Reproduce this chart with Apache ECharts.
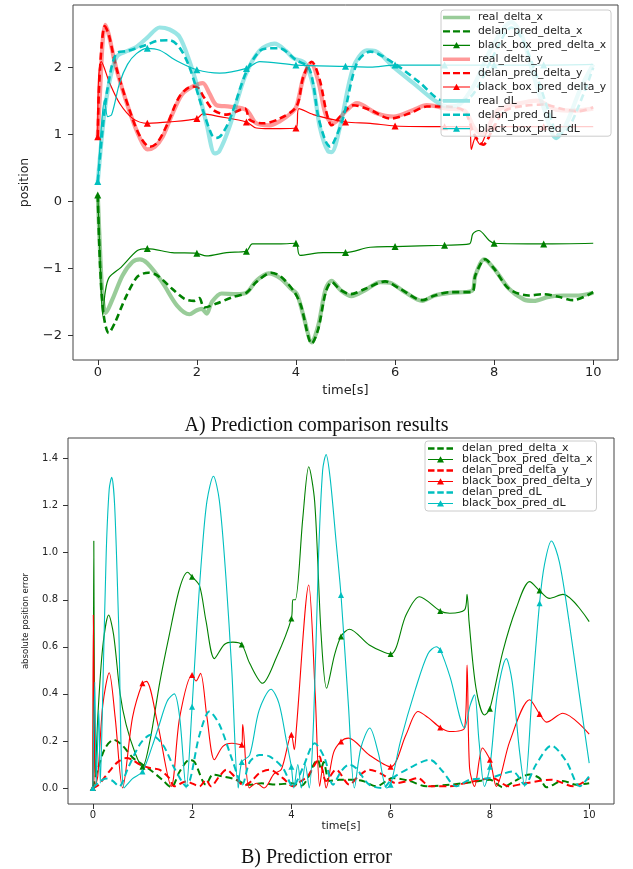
<!DOCTYPE html>
<html>
<head>
<meta charset="utf-8">
<script src="https://cdn.jsdelivr.net/npm/echarts@6/dist/echarts.min.js"></script>
<style>
  html, body { margin: 0; padding: 0; background: #fff; }
  #main { width: 633px; height: 869px; }
</style>
</head>
<body>
<div id="main"></div>
<script>
// tick labels
var xTicks = [0, 2, 4, 6, 8, 10];
var posTicks = [-2, -1, 0, 1, 2];
var errTicks = [0, 0.2, 0.4, 0.6, 0.8, 1.0, 1.2, 1.4];

// A) positions, [time, value]
var realDx = [[0,0.1],[0.05,-0.8],[0.1,-1.45],[0.16,-1.66],[0.3,-1.45],[0.5,-1.1],[0.7,-0.9],[0.85,-0.86],[1.0,-0.92],[1.3,-1.2],[1.6,-1.55],[1.85,-1.68],[2.0,-1.62],[2.1,-1.6],[2.2,-1.67],[2.3,-1.5],[2.5,-1.37],[2.8,-1.38],[3.0,-1.36],[3.2,-1.18],[3.45,-1.07],[3.7,-1.15],[3.9,-1.3],[4.02,-1.38],[4.15,-1.7],[4.32,-2.1],[4.45,-1.85],[4.6,-1.3],[4.72,-1.18],[4.9,-1.32],[5.12,-1.41],[5.4,-1.32],[5.7,-1.2],[5.9,-1.21],[6.2,-1.35],[6.55,-1.48],[6.8,-1.4],[7.1,-1.36],[7.55,-1.33],[7.62,-1.1],[7.8,-0.86],[8.0,-1.0],[8.3,-1.3],[8.6,-1.46],[8.8,-1.48],[9.1,-1.42],[9.4,-1.4],[9.7,-1.4],[10,-1.36]];
var delanDx = [[0,0.1],[0.05,-1.0],[0.12,-1.7],[0.22,-1.96],[0.35,-1.8],[0.55,-1.45],[0.8,-1.12],[1.02,-1.06],[1.2,-1.1],[1.5,-1.3],[1.75,-1.45],[1.95,-1.48],[2.05,-1.44],[2.15,-1.58],[2.4,-1.52],[2.7,-1.43],[3.0,-1.36],[3.2,-1.2],[3.5,-1.06],[3.7,-1.12],[3.97,-1.35],[4.1,-1.55],[4.32,-2.12],[4.45,-1.9],[4.6,-1.35],[4.72,-1.2],[4.9,-1.32],[5.1,-1.38],[5.4,-1.3],[5.8,-1.19],[6.1,-1.3],[6.55,-1.47],[6.8,-1.4],[7.1,-1.35],[7.55,-1.35],[7.62,-1.1],[7.82,-0.86],[8.0,-1.0],[8.3,-1.3],[8.7,-1.4],[9.0,-1.38],[9.3,-1.42],[9.6,-1.47],[10,-1.35]];
var boxDx = [[0,0.1],[0.05,-0.9],[0.1,-1.7],[0.15,-1.35],[0.23,-1.13],[0.47,-0.98],[0.8,-0.73],[1,-0.7],[1.5,-0.76],[2,-0.77],[2.19,-0.81],[2.6,-0.76],[3,-0.74],[3.12,-0.63],[3.7,-0.63],[4,-0.62],[4.08,-0.8],[4.55,-0.76],[5,-0.76],[5.5,-0.68],[6,-0.67],[7,-0.65],[7.5,-0.63],[7.57,-0.48],[7.69,-0.43],[7.9,-0.58],[8,-0.62],[9,-0.63],[10,-0.62]];
var realDy = [[0,0.97],[0.05,1.7],[0.1,2.4],[0.15,2.64],[0.22,2.5],[0.37,2.0],[0.64,1.35],[0.85,0.95],[1.0,0.78],[1.15,0.82],[1.31,0.97],[1.5,1.3],[1.7,1.6],[1.92,1.72],[2.12,1.77],[2.25,1.62],[2.4,1.44],[2.66,1.42],[3.0,1.37],[3.2,1.17],[3.47,1.14],[3.67,1.2],[3.9,1.32],[4.01,1.42],[4.15,1.85],[4.3,2.07],[4.45,1.8],[4.6,1.3],[4.75,1.17],[5.03,1.37],[5.23,1.47],[5.63,1.32],[5.97,1.27],[6.37,1.37],[6.64,1.44],[7.05,1.39],[7.4,1.36],[7.6,1.1],[7.77,1.0],[8.06,1.36],[8.47,1.46],[8.87,1.51],[9.27,1.37],[9.6,1.36],[10,1.39]];
var delanDy = [[0,0.97],[0.02,1.6],[0.08,2.35],[0.14,2.62],[0.22,2.5],[0.37,2.01],[0.64,1.37],[0.85,0.98],[1.05,0.82],[1.2,0.88],[1.4,1.15],[1.65,1.57],[1.9,1.72],[2.02,1.7],[2.15,1.55],[2.33,1.37],[2.6,1.3],[2.97,1.39],[3.07,1.22],[3.34,1.17],[3.67,1.24],[4.01,1.42],[4.15,1.87],[4.32,2.09],[4.48,1.82],[4.62,1.32],[4.72,1.14],[4.89,1.27],[5.16,1.44],[5.5,1.37],[5.9,1.24],[6.3,1.32],[6.64,1.42],[7.05,1.42],[7.4,1.35],[7.6,1.0],[7.78,0.85],[7.95,1.05],[8.2,1.35],[8.6,1.43],[9.0,1.45],[9.4,1.38],[9.7,1.35],[10,1.41]];
var boxDy = [[0,0.97],[0.01,1.74],[0.07,2.09],[0.24,1.77],[0.44,1.47],[0.71,1.24],[1,1.17],[1.45,1.19],[2,1.24],[2.12,1.31],[2.46,1.27],[3,1.19],[3.2,1.1],[3.47,1.09],[4,1.1],[4.06,1.39],[4.35,1.3],[5,1.19],[5.5,1.17],[6,1.13],[7,1.12],[7.5,1.12],[7.54,0.78],[7.62,0.95],[7.72,0.85],[7.88,1.08],[8,1.12],[9,1.12],[10,1.12]];
var realDL = [[0,0.3],[0.1,1.1],[0.17,1.52],[0.3,2.0],[0.4,2.18],[0.6,2.25],[0.78,2.31],[1.0,2.45],[1.25,2.6],[1.45,2.57],[1.65,2.46],[1.85,2.1],[1.99,1.77],[2.2,1.15],[2.36,0.72],[2.45,0.75],[2.66,1.12],[2.97,1.87],[3.27,2.26],[3.57,2.36],[3.8,2.25],[3.95,2.14],[4.18,2.07],[4.35,1.72],[4.48,1.12],[4.65,0.75],[4.72,0.74],[4.89,1.12],[5.16,2.01],[5.43,2.26],[5.6,2.25],[5.97,2.01],[6.37,1.77],[6.78,1.52],[7.05,1.42],[7.3,1.45],[7.6,1.75],[7.95,2.3],[8.35,2.68],[8.55,2.5],[8.75,2.0],[9.0,1.4],[9.25,0.95],[9.45,1.15],[9.75,1.7],[10,2.05]];
var delanDL = [[0,0.3],[0.1,1.1],[0.2,1.7],[0.37,2.21],[0.6,2.25],[0.98,2.34],[1.2,2.4],[1.45,2.41],[1.65,2.3],[1.85,2.01],[2.12,1.37],[2.3,1.0],[2.39,0.95],[2.5,1.0],[2.66,1.22],[3.0,1.94],[3.27,2.25],[3.47,2.29],[3.67,2.29],[4.01,2.11],[4.25,2.01],[4.35,1.75],[4.45,1.27],[4.6,0.9],[4.69,0.82],[4.8,0.95],[4.96,1.27],[5.23,2.07],[5.5,2.24],[5.97,2.07],[6.51,1.77],[6.91,1.52],[7.2,1.5],[7.5,1.55],[7.7,1.75],[8.0,2.2],[8.35,2.6],[8.55,2.45],[8.85,1.9],[9.1,1.35],[9.3,1.0],[9.5,1.1],[9.8,1.6],[10,2.0]];
var boxDL = [[0,0.3],[0.07,1.1],[0.135,1.52],[0.2,1.27],[0.28,1.3],[0.44,1.77],[0.6,2.05],[0.78,2.21],[1,2.29],[1.25,2.26],[1.6,2.1],[2,1.97],[2.46,1.92],[3,1.99],[3.27,2.09],[4,2.04],[5,2.02],[5.5,2.01],[6,2.04],[7,2.04],[8,2.04],[9,2.04],[10,2.05]];

// B) absolute errors, [time, value]
var delanEx = [[0,0],[0.1,0.08],[0.25,0.17],[0.42,0.205],[0.6,0.18],[0.8,0.13],[1,0.1],[1.2,0.07],[1.4,0.035],[1.58,0.003],[1.75,0.07],[1.95,0.12],[2.05,0.11],[2.28,0.014],[2.42,0.057],[2.6,0.05],[2.82,0.04],[3.16,0.014],[3.4,0.02],[3.7,0.015],[4.0,0.02],[4.2,0.01],[4.35,0.05],[4.45,0.1],[4.53,0.12],[4.6,0.08],[4.65,0.11],[4.77,0.03],[4.97,0.035],[5.2,0.035],[5.44,0.03],[5.71,0.007],[6.04,0.042],[6.38,0.03],[6.72,0.007],[7.19,0.014],[7.46,0.02],[7.79,0.03],[8.0,0.035],[8.26,0.003],[8.5,0.03],[8.8,0.057],[9.0,0.042],[9.14,0.003],[9.47,0.03],[9.74,0.014],[10,0.02]];
var boxEx = [[0,0],[0.01,0.3],[0.02,1.05],[0.03,0.5],[0.05,0.05],[0.1,0.3],[0.2,0.6],[0.32,0.735],[0.42,0.65],[0.55,0.4],[0.67,0.27],[0.85,0.15],[1,0.09],[1.15,0.2],[1.35,0.45],[1.54,0.65],[1.75,0.85],[1.91,0.917],[2,0.898],[2.15,0.86],[2.28,0.71],[2.45,0.55],[2.65,0.61],[2.82,0.62],[3,0.61],[3.16,0.53],[3.42,0.445],[3.69,0.55],[4,0.72],[4.03,0.8],[4.08,0.8],[4.23,1.146],[4.35,1.365],[4.47,1.216],[4.6,0.65],[4.71,0.424],[4.87,0.566],[5,0.644],[5.17,0.675],[5.57,0.608],[6,0.569],[6.31,0.735],[6.58,0.813],[7,0.752],[7.19,0.743],[7.49,0.757],[7.54,0.823],[7.58,0.707],[7.72,0.424],[7.89,0.31],[8,0.337],[8.26,0.58],[8.53,0.764],[8.8,0.877],[9,0.839],[9.2,0.806],[9.47,0.823],[10,0.707]];
var delanEy = [[0,0],[0.1,0.01],[0.33,0.07],[0.5,0.11],[0.67,0.127],[0.8,0.12],[0.94,0.1],[1.15,0.085],[1.34,0.078],[1.54,0.042],[1.64,0.007],[1.88,0.028],[2.15,0.007],[2.28,0.035],[2.38,0.007],[2.55,0.05],[2.69,0.078],[2.85,0.05],[3.05,0.01],[3.2,0.03],[3.36,0.064],[3.56,0.078],[3.83,0.042],[4.03,0.007],[4.2,0.03],[4.33,0.05],[4.5,0.11],[4.57,0.134],[4.63,0.07],[4.7,0.03],[4.9,0.078],[5.17,0.014],[5.35,0.05],[5.57,0.078],[5.84,0.057],[6.11,0.02],[6.31,0.028],[6.55,0.042],[6.79,0.007],[7.19,0.007],[7.49,0.02],[7.81,0.035],[8.06,0.042],[8.38,0.007],[8.71,0.02],[9.24,0.035],[9.69,0.007],[10,0.042]];
var boxEy = [[0,0],[0.01,0.735],[0.03,0.3],[0.05,0.01],[0.1,0.05],[0.2,0.35],[0.33,0.49],[0.45,0.3],[0.6,0.0],[0.8,0.3],[1,0.445],[1.08,0.453],[1.3,0.28],[1.58,0.007],[1.75,0.3],[2,0.48],[2.08,0.455],[2.17,0.488],[2.3,0.3],[2.45,0.12],[2.62,0.177],[2.8,0.19],[3,0.184],[3.02,0.27],[3.15,0.0],[3.3,0.02],[3.45,0.0],[3.65,0.06],[3.8,0.08],[4,0.226],[4.06,0.163],[4.1,0.25],[4.35,0.863],[4.48,0.4],[4.57,0.007],[4.63,0.08],[4.7,0.0],[4.85,0.15],[5,0.198],[5.15,0.212],[5.57,0.14],[6,0.09],[6.31,0.226],[6.55,0.325],[6.75,0.3],[7,0.257],[7.19,0.24],[7.49,0.255],[7.54,0.523],[7.59,0.085],[7.69,0.007],[7.85,0.17],[8,0.12],[8.13,0.007],[8.4,0.198],[8.8,0.375],[9,0.315],[9.14,0.28],[9.47,0.318],[10,0.229]];
var delanEL = [[0,0],[0.1,0.02],[0.27,0.04],[0.4,0.03],[0.53,0.007],[0.7,0.08],[0.87,0.156],[1.0,0.2],[1.17,0.226],[1.41,0.184],[1.64,0.085],[1.88,0.007],[2.15,0.226],[2.35,0.325],[2.55,0.27],[2.82,0.113],[3.01,0.014],[3.16,0.11],[3.36,0.14],[3.56,0.134],[3.83,0.085],[4.03,0.007],[4.23,0.085],[4.47,0.19],[4.67,0.127],[4.84,0.014],[5.0,0.07],[5.17,0.1],[5.3,0.085],[5.57,0.014],[5.84,0.0],[6.04,0.042],[6.38,0.085],[6.79,0.12],[7.05,0.07],[7.32,0.007],[7.59,0.035],[7.99,0.042],[8.46,0.07],[8.7,0.014],[8.93,0.1],[9.24,0.18],[9.54,0.113],[9.81,0.007],[10,0.05]];
var boxEL = [[0,0],[0.04,0.45],[0.07,0.02],[0.12,0.33],[0.15,0.02],[0.2,0.4],[0.27,1.0],[0.33,1.27],[0.38,1.32],[0.44,1.2],[0.52,0.7],[0.63,0.0],[0.8,0.04],[1,0.07],[1.2,0.18],[1.34,0.27],[1.5,0.37],[1.64,0.40],[1.75,0.3],[1.88,0.0],[2,0.345],[2.1,0.7],[2.2,1.0],[2.3,1.22],[2.43,1.325],[2.55,1.22],[2.68,0.9],[2.8,0.5],[2.93,0.0],[3,0.11],[3.16,0.14],[3.35,0.33],[3.59,0.42],[3.75,0.36],[3.9,0.2],[4,0.09],[4.05,0.0],[4.13,0.1],[4.2,0.0],[4.28,0.1],[4.36,0.0],[4.45,0.3],[4.55,1.0],[4.63,1.35],[4.7,1.417],[4.78,1.32],[4.9,1.05],[5,0.82],[5.15,0.35],[5.27,0.0],[5.4,0.17],[5.58,0.255],[5.75,0.15],[5.92,0.0],[6,0.014],[6.2,0.2],[6.5,0.42],[6.75,0.57],[6.92,0.60],[7,0.587],[7.2,0.47],[7.49,0.255],[7.6,0.35],[7.69,0.396],[7.78,0.2],[7.89,0.007],[8,0.09],[8.15,0.4],[8.33,0.55],[8.45,0.45],[8.6,0.15],[8.7,0.007],[8.85,0.4],[9,0.785],[9.1,0.95],[9.24,1.05],[9.4,0.96],[9.6,0.7],[9.8,0.4],[10,0.106]];

var GREEN = '#008000', RED = '#ff0000', CYAN = '#00bfbf';
var FONT = 'DejaVu Sans';

// legend icons: drawn in w x h, padded to totalW so the text sits further right
function icons(w, totalW, h) {
    var pad = 'M0,0h0.01v0.01h-0.01z M' + totalW + ',' + h + 'h-0.01v-0.01h0.01z ';
    var m = h / 2;
    function bar(x0, x1, t) {
        return 'M' + x0 + ',' + (m - t / 2) + 'H' + x1 + 'V' + (m + t / 2) + 'H' + x0 + 'Z ';
    }
    var d = w / 10;
    var tri = 'M' + (w / 2 - 3.5) + ',' + (m + 3) + 'L' + (w / 2) + ',' + (m - 3.2) + 'L' + (w / 2 + 3.5) + ',' + (m + 3) + 'Z';
    return {
        solid: 'path://' + pad + bar(0, w, 3.6),
        dash: 'path://' + pad + bar(0, 2.6 * d, 2.4) + bar(3.7 * d, 6.3 * d, 2.4) + bar(7.4 * d, w, 2.4),
        marker: 'path://' + pad + bar(0, w, 1.2) + tri
    };
}
var topIcon = icons(27, 30, 10);
var botIcon = icons(25, 29, 8);

function markEvery(value) {
    return (Number.isInteger(value[0]) && value[0] < 10) ? 'triangle' : 'none';
}

function realLine(name, data, color) {
    return {
        name: name, type: 'line', xAxisIndex: 0, yAxisIndex: 0, data: data,
        smooth: 0.3, symbol: 'none', color: color,
        lineStyle: { color: color, width: 4.2, opacity: 0.4 }
    };
}
function delanLine(name, data, color, idx, width) {
    return {
        name: name, type: 'line', xAxisIndex: idx, yAxisIndex: idx, data: data,
        smooth: 0.3, symbol: 'none', color: color,
        lineStyle: { color: color, width: width, type: [7, 4] }
    };
}
function boxLine(name, data, color, idx, width, size) {
    return {
        name: name, type: 'line', xAxisIndex: idx, yAxisIndex: idx, data: data,
        smooth: 0.3, symbol: markEvery, symbolSize: size, showSymbol: true, showAllSymbol: true,
        color: color, itemStyle: { color: color },
        lineStyle: { color: color, width: width }
    };
}

function xAxisFor(idx, fontSize, nameSize, nameGap, margin) {
    return {
        type: 'value', gridIndex: idx, min: -0.5, max: 10.5,
        axisLine: { show: false, onZero: false },
        axisTick: { show: true, length: 5, customValues: xTicks, lineStyle: { color: '#333' } },
        axisLabel: { customValues: xTicks, fontSize: fontSize, fontFamily: FONT, color: '#222', margin: margin },
        splitLine: { show: false },
        name: 'time[s]', nameLocation: 'middle', nameGap: nameGap,
        nameTextStyle: { fontSize: nameSize, fontFamily: FONT, color: '#222' }
    };
}

var chart = echarts.init(document.getElementById('main'));
chart.setOption({
    animation: false,
    backgroundColor: '#fff',
    title: [
        { text: 'A) Prediction comparison results', left: 'center', top: 411,
          textStyle: { fontFamily: 'Liberation Serif', fontSize: 20, fontWeight: 'normal', color: '#111' } },
        { text: 'B) Prediction error', left: 'center', top: 843,
          textStyle: { fontFamily: 'Liberation Serif', fontSize: 20, fontWeight: 'normal', color: '#111' } }
    ],
    grid: [
        { left: 73, top: 5, width: 545, height: 355, show: true, borderColor: '#444', borderWidth: 1 },
        { left: 68, top: 438, width: 546, height: 366, show: true, borderColor: '#444', borderWidth: 1 }
    ],
    xAxis: [
        xAxisFor(0, 13, 13, 24, 6),
        xAxisFor(1, 10, 11, 16, 6)
    ],
    yAxis: [
        {
            type: 'value', gridIndex: 0, min: -2.363, max: 2.936,
            axisLine: { show: false, onZero: false },
            axisTick: { show: true, length: 5, customValues: posTicks, lineStyle: { color: '#333' } },
            axisLabel: {
                customValues: posTicks, fontSize: 13, fontFamily: FONT, color: '#222', margin: 11,
                formatter: function (v) { return v < 0 ? '\u2212' + Math.abs(v) : String(v); }
            },
            splitLine: { show: false },
            name: 'position', nameLocation: 'middle', nameGap: 42,
            nameTextStyle: { fontSize: 12.5, fontFamily: FONT, color: '#222' }
        },
        {
            type: 'value', gridIndex: 1, min: -0.068, max: 1.4875,
            axisLine: { show: false, onZero: false },
            axisTick: { show: true, length: 5, customValues: errTicks, lineStyle: { color: '#333' } },
            axisLabel: {
                customValues: errTicks, fontSize: 10, fontFamily: FONT, color: '#222', margin: 10,
                formatter: function (v) { return v.toFixed(1); }
            },
            splitLine: { show: false },
            name: 'absolute position error', nameLocation: 'middle', nameGap: 38,
            nameTextStyle: { fontSize: 8.5, fontFamily: FONT, color: '#222' }
        }
    ],
    legend: [
        {
            orient: 'vertical', left: 441, top: 10, padding: [2, 5, 2, 2],
            itemWidth: 30, itemHeight: 10, itemGap: 2.9, selectedMode: false,
            backgroundColor: 'rgba(255,255,255,0.8)', borderColor: '#cccccc', borderWidth: 1, borderRadius: 3,
            textStyle: { fontSize: 10.8, fontFamily: FONT, color: '#222', lineHeight: 10 },
            data: [
                { name: 'real_delta_x', icon: topIcon.solid, itemStyle: { color: '#99cc99' } },
                { name: 'delan_pred_delta_x', icon: topIcon.dash, itemStyle: { color: GREEN } },
                { name: 'black_box_pred_delta_x', icon: topIcon.marker, itemStyle: { color: GREEN } },
                { name: 'real_delta_y', icon: topIcon.solid, itemStyle: { color: '#ff9999' } },
                { name: 'delan_pred_delta_y', icon: topIcon.dash, itemStyle: { color: RED } },
                { name: 'black_box_pred_delta_y', icon: topIcon.marker, itemStyle: { color: RED } },
                { name: 'real_dL', icon: topIcon.solid, itemStyle: { color: '#99e5e5' } },
                { name: 'delan_pred_dL', icon: topIcon.dash, itemStyle: { color: CYAN } },
                { name: 'black_box_pred_dL', icon: topIcon.marker, itemStyle: { color: CYAN } }
            ]
        },
        {
            orient: 'vertical', left: 425, top: 441, padding: [2, 4, 2, 3],
            itemWidth: 29, itemHeight: 8, itemGap: 0, selectedMode: false,
            backgroundColor: 'rgba(255,255,255,0.8)', borderColor: '#cccccc', borderWidth: 1, borderRadius: 3,
            textStyle: { fontSize: 11, fontFamily: FONT, color: '#222', lineHeight: 10 },
            data: [
                { name: 'delan_pred_delta_x', icon: botIcon.dash, itemStyle: { color: GREEN } },
                { name: 'black_box_pred_delta_x', icon: botIcon.marker, itemStyle: { color: GREEN } },
                { name: 'delan_pred_delta_y', icon: botIcon.dash, itemStyle: { color: RED } },
                { name: 'black_box_pred_delta_y', icon: botIcon.marker, itemStyle: { color: RED } },
                { name: 'delan_pred_dL', icon: botIcon.dash, itemStyle: { color: CYAN } },
                { name: 'black_box_pred_dL', icon: botIcon.marker, itemStyle: { color: CYAN } }
            ]
        }
    ],
    series: [
        realLine('real_delta_x', realDx, GREEN),
        delanLine('delan_pred_delta_x', delanDx, GREEN, 0, 2.6),
        boxLine('black_box_pred_delta_x', boxDx, GREEN, 0, 1.2, 7),
        realLine('real_delta_y', realDy, RED),
        delanLine('delan_pred_delta_y', delanDy, RED, 0, 2.6),
        boxLine('black_box_pred_delta_y', boxDy, RED, 0, 1.2, 7),
        realLine('real_dL', realDL, CYAN),
        delanLine('delan_pred_dL', delanDL, CYAN, 0, 2.6),
        boxLine('black_box_pred_dL', boxDL, CYAN, 0, 1.2, 7),

        delanLine('delan_pred_delta_x', delanEx, GREEN, 1, 2),
        boxLine('black_box_pred_delta_x', boxEx, GREEN, 1, 1.1, 6),
        delanLine('delan_pred_delta_y', delanEy, RED, 1, 2),
        boxLine('black_box_pred_delta_y', boxEy, RED, 1, 1.1, 6),
        delanLine('delan_pred_dL', delanEL, CYAN, 1, 2),
        boxLine('black_box_pred_dL', boxEL, CYAN, 1, 1.1, 6)
    ]
});
</script>
</body>
</html>
